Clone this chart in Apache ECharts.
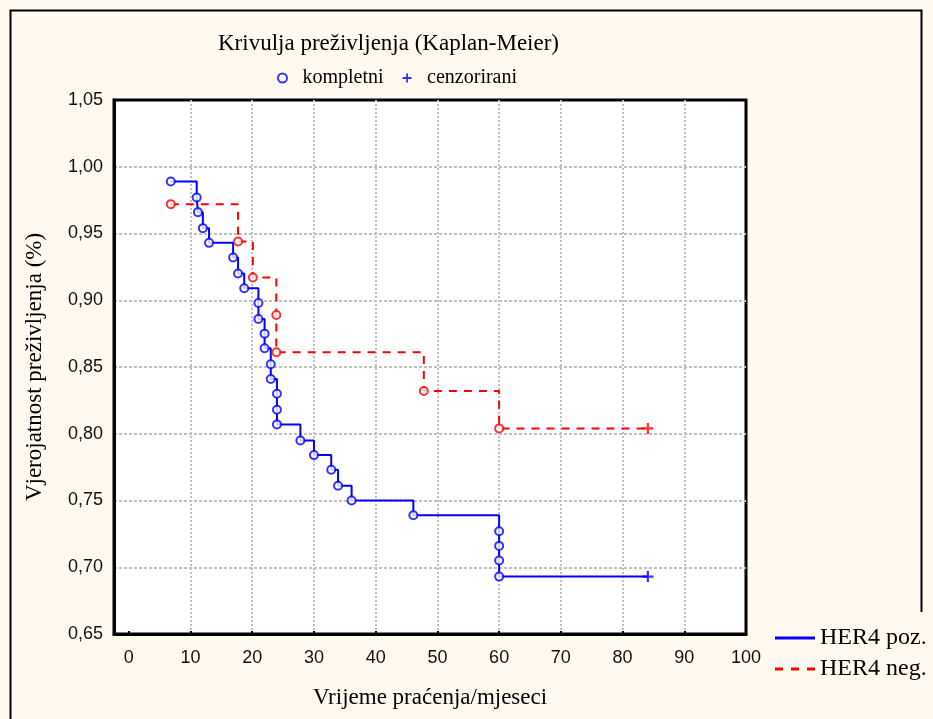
<!DOCTYPE html>
<html>
<head>
<meta charset="utf-8">
<script src="https://cdn.jsdelivr.net/npm/echarts@6/dist/echarts.min.js"></script>
<style>
  html, body { margin: 0; padding: 0; background: #fff9ef; }
  #chart { width: 933px; height: 719px; }
</style>
</head>
<body>
<div id="chart"></div>
<script>
// ---- data ----
const titleText = 'Krivulja preživljenja (Kaplan-Meier)';
const xTicks = [0, 10, 20, 30, 40, 50, 60, 70, 80, 90, 100];
const yTicks = [0.65, 0.70, 0.75, 0.80, 0.85, 0.90, 0.95, 1.00, 1.05];

// HER4 poz. — complete (event) observations
const posTimes = [6.8, 11.0, 11.2, 12.0, 13.0, 16.9, 17.7, 18.7, 21.0, 21.0, 22.0, 22.0, 23.0, 23.0,
                  24.0, 24.0, 24.0, 27.8, 30.0, 32.8, 33.9, 36.1, 46.1, 60.0, 60.0, 60.0, 60.0];
const posSurv  = [0.989, 0.977, 0.966, 0.954, 0.943, 0.932, 0.920, 0.909, 0.898, 0.886, 0.875, 0.864, 0.852, 0.841,
                  0.830, 0.818, 0.807, 0.795, 0.784, 0.773, 0.761, 0.750, 0.739, 0.727, 0.716, 0.705, 0.693];
const posCensTimes = [84.1];
const posCensSurv  = [0.693];

// HER4 neg. — complete (event) observations
const negTimes = [6.8, 17.7, 20.1, 23.9, 23.9, 47.8, 60.0];
const negSurv  = [0.972, 0.944, 0.917, 0.889, 0.861, 0.832, 0.804];
const negCensTimes = [84.1];
const negCensSurv  = [0.804];

// ---- build ----
const zip = (a, b) => a.map((v, i) => [v, b[i]]);
const posLine = zip(posTimes, posSurv).concat(zip(posCensTimes, posCensSurv));
const negLine = zip(negTimes, negSurv).concat(zip(negCensTimes, negCensSurv));

const SERIF = 'Liberation Serif';
const SANS = 'Liberation Sans';
const BLUE = '#0000ff';
const RED = '#ff0000';
const PLUS = 'path://M4,0 L6,0 L6,4 L10,4 L10,6 L6,6 L6,10 L4,10 L4,6 L0,6 L0,4 L4,4 Z';
const SOLID_ICON = 'path://M0,0 L40,0 L40,3 L0,3 Z';
const DASH_ICON = 'path://M0,0 L8,0 L8,3 L0,3 Z M16,0 L24,0 L24,3 L16,3 Z M32,0 L40,0 L40,3 L32,3 Z';

const chart = echarts.init(document.getElementById('chart'), null, { renderer: 'canvas' });
chart.setOption({
  backgroundColor: '#fff9ef',
  animation: false,
  title: {
    text: titleText,
    left: 213, top: 27,
    textStyle: { fontFamily: SERIF, fontSize: 23, fontWeight: 'normal', color: '#000' }
  },
  legend: [
    {
      data: ['kompletni', 'cenzorirani'],
      left: 272, top: 63,
      itemWidth: 30, itemHeight: 9, itemGap: 19,
      textStyle: { fontFamily: SERIF, fontSize: 20, color: '#000' }
    },
    {
      data: [{ name: 'HER4 poz.', icon: SOLID_ICON }, { name: 'HER4 neg.', icon: DASH_ICON }],
      orient: 'vertical',
      left: 770, top: 621,
      itemWidth: 40, itemHeight: 14, itemGap: 7,
      textStyle: { fontFamily: SERIF, fontSize: 24, color: '#000' }
    }
  ],
  graphic: [
    { type: 'polyline', shape: { points: [[10.5, 719], [10.5, 10.5], [921.5, 10.5], [921.5, 612]] },
      style: { fill: 'none', stroke: '#000', lineWidth: 2 }, silent: true, z: -1 }
  ],
  grid: {
    left: 114, top: 100, right: 187, bottom: 85,
    show: true, backgroundColor: '#ffffff', borderColor: '#000', borderWidth: 3
  },
  xAxis: {
    type: 'value',
    min: -2.4, max: 100,
    name: 'Vrijeme praćenja/mjeseci',
    nameLocation: 'middle', nameGap: 52,
    nameTextStyle: { fontFamily: SERIF, fontSize: 23, color: '#000' },
    axisLine: { show: true, onZero: false, lineStyle: { color: '#000', width: 3 } },
    axisTick: { show: true, inside: true, length: 3, customValues: xTicks, lineStyle: { color: '#000', width: 2 } },
    axisLabel: { customValues: xTicks, margin: 15, fontFamily: SANS, fontSize: 18, color: '#111' },
    splitLine: { show: true, showMinLine: false, showMaxLine: false,
                 lineStyle: { color: '#c0c0c0', width: 2, type: [2, 2] } }
  },
  yAxis: {
    type: 'value',
    min: 0.65, max: 1.05, interval: 0.05,
    name: 'Vjerojatnost preživljenja (%)',
    nameLocation: 'middle', nameGap: 68,
    nameTextStyle: { fontFamily: SERIF, fontSize: 23, color: '#000' },
    axisLine: { show: true, onZero: false, lineStyle: { color: '#000', width: 3 } },
    axisTick: { show: false },
    axisLabel: { margin: 11, fontFamily: SANS, fontSize: 18, color: '#111',
                 formatter: v => v.toFixed(2).replace('.', ',') },
    splitLine: { show: true, showMinLine: false, showMaxLine: false,
                 lineStyle: { color: '#c0c0c0', width: 2, type: [3, 2] } }
  },
  series: [
    { name: 'HER4 poz.', type: 'line', step: 'end', data: posLine, symbol: 'none',
      lineStyle: { color: BLUE, width: 2 }, itemStyle: { color: BLUE }, z: 3 },
    { name: 'HER4 neg.', type: 'line', step: 'end', data: negLine, symbol: 'none',
      lineStyle: { color: RED, width: 2, type: [8, 7] }, itemStyle: { color: RED }, z: 2 },
    { name: 'kompletni', type: 'scatter', data: zip(posTimes, posSurv), symbol: 'circle', symbolSize: 8,
      itemStyle: { color: '#fff', borderColor: BLUE, borderWidth: 2 }, z: 4 },
    { name: 'kompletni', type: 'scatter', data: zip(negTimes, negSurv), symbol: 'circle', symbolSize: 8,
      itemStyle: { color: '#fff', borderColor: RED, borderWidth: 2 }, z: 4 },
    { name: 'cenzorirani', type: 'scatter', data: zip(posCensTimes, posCensSurv), symbol: PLUS, symbolSize: 11,
      itemStyle: { color: BLUE }, z: 4 },
    { name: 'cenzorirani', type: 'scatter', data: zip(negCensTimes, negCensSurv), symbol: PLUS, symbolSize: 11,
      itemStyle: { color: RED }, z: 4 }
  ]
});
</script>
</body>
</html>
